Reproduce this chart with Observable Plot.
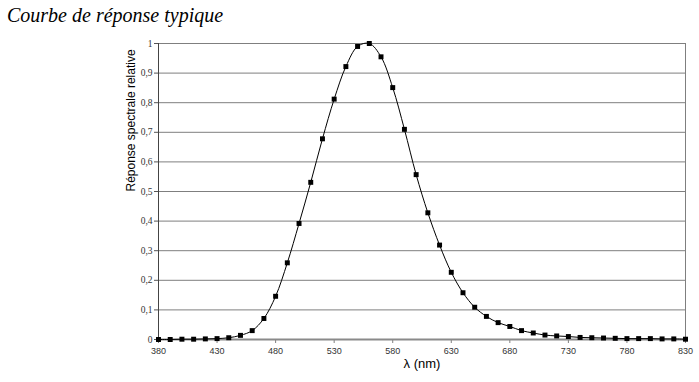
<!DOCTYPE html>
<html>
<head>
<meta charset="utf-8">
<script src="https://cdn.jsdelivr.net/npm/d3@7"></script>
<script src="https://cdn.jsdelivr.net/npm/@observablehq/plot@0.6"></script>
<style>
  html, body { margin: 0; padding: 0; background: #fff; }
  #title { font-family: "Liberation Serif", "Times New Roman", serif; font-style: italic; font-size: 20px; height: 30px; line-height: 30px; padding-left: 7px; color: #000; }
  svg { display: block; }
</style>
</head>
<body>
<div id="title">Courbe de réponse typique</div>
<div id="chart"></div>
<script>
const wavelengths = [380,390,400,410,420,430,440,450,460,470,480,490,500,510,520,530,540,550,560,570,580,590,600,610,620,630,640,650,660,670,680,690,700,710,720,730,740,750,760,770,780,790,800,810,820,830];
const response = [0.000,0.000,0.001,0.001,0.002,0.003,0.006,0.014,0.030,0.071,0.146,0.259,0.392,0.531,0.678,0.812,0.922,0.990,1.000,0.955,0.851,0.710,0.557,0.428,0.319,0.227,0.158,0.109,0.078,0.057,0.044,0.030,0.022,0.015,0.012,0.010,0.007,0.006,0.005,0.004,0.003,0.003,0.003,0.002,0.002,0.001];
const xTicks = [380,430,480,530,580,630,680,730,780,830];
const yTicks = [0,0.1,0.2,0.3,0.4,0.5,0.6,0.7,0.8,0.9,1];
const xLabel = "λ (nm)";
const yLabel = "Réponse spectrale relative";

const data = wavelengths.map((w, i) => ({w, v: response[i]}));
const fmt = d => String(d).replace(".", ",");

const chart = Plot.plot({
  width: 699,
  height: 352,
  marginTop: 13,
  marginBottom: 43,
  marginLeft: 158,
  marginRight: 14,
  style: {background: "#fff", overflow: "visible"},
  x: {domain: [380, 830], label: null},
  y: {domain: [0, 1], label: null},
  marks: [
    Plot.ruleY(yTicks.filter(d => d > 0), {stroke: "#7f7f7f", strokeWidth: 1}),
    Plot.ruleX([830], {stroke: "#7f7f7f", strokeWidth: 1}),
    Plot.axisX({ticks: xTicks, tickFormat: d => String(d), tickSize: 4, tickPadding: 4, fontSize: 9, fontFamily: "Liberation Sans, Arial, sans-serif", color: "#333", stroke: "#7f7f7f", label: null}),
    Plot.axisY({ticks: yTicks, tickFormat: fmt, tickSize: 4, tickPadding: 2, fontSize: 9.5, fontFamily: "Liberation Serif, serif", color: "#333", stroke: "#555", label: null}),
    Plot.ruleY([0], {stroke: "#8a8a8a", strokeWidth: 2}),
    Plot.ruleX([380], {stroke: "#444", strokeWidth: 1}),
    Plot.line(data, {x: "w", y: "v", curve: "catmull-rom", stroke: "#000", strokeWidth: 1}),
    Plot.dot(data, {x: "w", y: "v", symbol: "square", r: 2.8, fill: "#000", stroke: "none"}),
    Plot.text([xLabel], {text: d => d, frameAnchor: "bottom", dy: 28, fontSize: 13, fontFamily: "Liberation Sans, Arial, sans-serif", fill: "#000"}),
    Plot.text([yLabel], {text: d => d, frameAnchor: "left", dx: -27, rotate: -90, fontSize: 12, fontFamily: "Liberation Sans, Arial, sans-serif", fill: "#000"})
  ]
});
document.getElementById("chart").appendChild(chart);
</script>
</body>
</html>
